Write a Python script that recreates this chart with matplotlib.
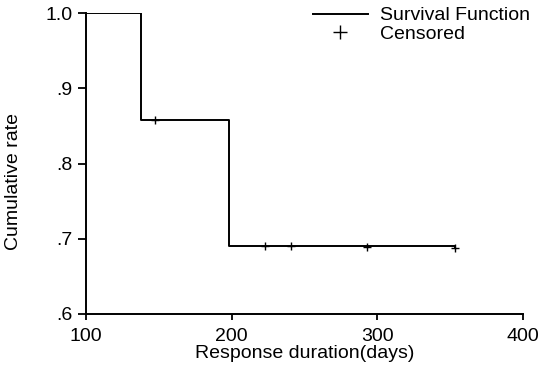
import matplotlib.pyplot as plt
from matplotlib.lines import Line2D

plt.rcParams['font.family'] = ['Liberation Sans', 'DejaVu Sans']

# Kaplan-Meier steps
step_days = [100, 138, 198, 353]
step_rate = [1.0, 0.858, 0.690, 0.688]

censor_days = [147, 223, 241, 293, 353]
censor_rate = [0.858, 0.690, 0.690, 0.689, 0.688]

fig = plt.figure(figsize=(5.41, 3.75), dpi=100)
ax = fig.add_axes([0.159, 0.163, 0.808, 0.802])

ax.step(step_days, step_rate, where='post', color='black', lw=1.4)
ax.plot(censor_days, censor_rate, '+', color='black', ms=6, mew=1.0)

ax.set_xlim(100, 400)
ax.set_ylim(0.6, 1.0)
ax.set_xticks([100, 200, 300, 400])
ax.set_yticks([0.6, 0.7, 0.8, 0.9, 1.0])
ax.set_yticklabels(['.6', '.7', '.8', '.9', '1.0'])
ax.spines['top'].set_visible(False)
ax.spines['right'].set_visible(False)
ax.spines['left'].set_linewidth(1.4)
ax.spines['bottom'].set_linewidth(1.4)
ax.tick_params(direction='out', length=5.5, width=1.3, labelsize=14, pad=4)
ax.tick_params(axis='x', length=4, pad=6)

ax.set_xlabel('Response duration(days)', fontsize=14, labelpad=0)
ax.set_ylabel('Cumulative rate', fontsize=14)
ax.yaxis.set_label_coords(-0.146, 0.44)

handles = [Line2D([], [], color='black', lw=1.4),
           Line2D([], [], color='black', marker='+', ls='none', ms=10, mew=1.0)]
fig.legend(handles, ['Survival Function', 'Censored'], loc='upper left',
           bbox_to_anchor=(0.579, 0.982), frameon=False, fontsize=14,
           borderpad=0, borderaxespad=0,
           handlelength=2.8, handletextpad=0.65, labelspacing=0.05)

fig.savefig('out.png', dpi=100)
